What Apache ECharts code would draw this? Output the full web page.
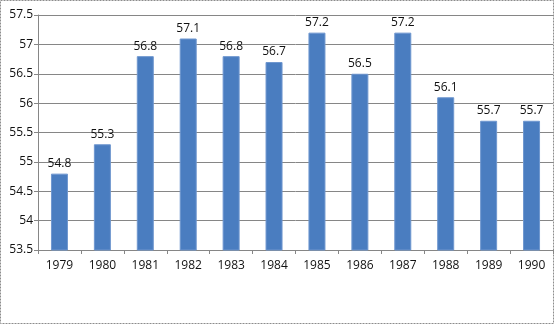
<!DOCTYPE html>
<html><head><meta charset="utf-8">
<script src="https://cdn.jsdelivr.net/npm/echarts@6/dist/echarts.min.js"></script>
<style>html,body{margin:0;padding:0;background:#fff}#c{width:555px;height:325px}</style>
</head><body><div id="c"></div>
<script>
const categories = ['1979','1980','1981','1982','1983','1984','1985','1986','1987','1988','1989','1990'];
const values = [54.8, 55.3, 56.8, 57.1, 56.8, 56.7, 57.2, 56.5, 57.2, 56.1, 55.7, 55.7];
const yMin = 53.5, yMax = 57.5, yStep = 0.5;

const chart = echarts.init(document.getElementById('c'), null, {renderer:'canvas'});
const font = 'Open Sans';
chart.setOption({
  animation: false,
  backgroundColor: '#fff',
  graphic: [{type:'rect', shape:{x:0.5,y:0.5,width:553,height:323}, style:{fill:'none', stroke:'#8c8c8c', lineWidth:1, lineDash:[2,1]}, silent:true, z:-1}],
  grid: {left: 38, right: 2, top: 15, bottom: 75},
  xAxis: {
    type: 'category', data: categories,
    axisLine: {lineStyle: {color: '#868686'}},
    axisTick: {show: true, length: 4, lineStyle:{color:'#868686'}},
    axisLabel: {color: '#111', fontFamily: font, fontSize: 12, margin: 10}
  },
  yAxis: {
    type: 'value', min: yMin, max: yMax, interval: yStep,
    axisLine: {show: true, lineStyle: {color: '#868686'}},
    axisTick: {show: true, length: 4, lineStyle:{color:'#868686'}},
    splitLine: {lineStyle: {color: '#868686'}},
    axisLabel: {color: '#111', fontFamily: font, fontSize: 12, margin: 5,
      formatter: v => String(Math.round(v*10)/10)}
  },
  series: [{
    type: 'bar', data: values, barWidth: 17,
    itemStyle: {color: '#4a7dc0', borderColor: '#6f97cf', borderWidth: 1},
    label: {show: true, position: 'top', color: '#111', fontFamily: font, fontSize: 12, distance: 4,
      formatter: p => p.value.toFixed(1)}
  }]
});
</script></body></html>
